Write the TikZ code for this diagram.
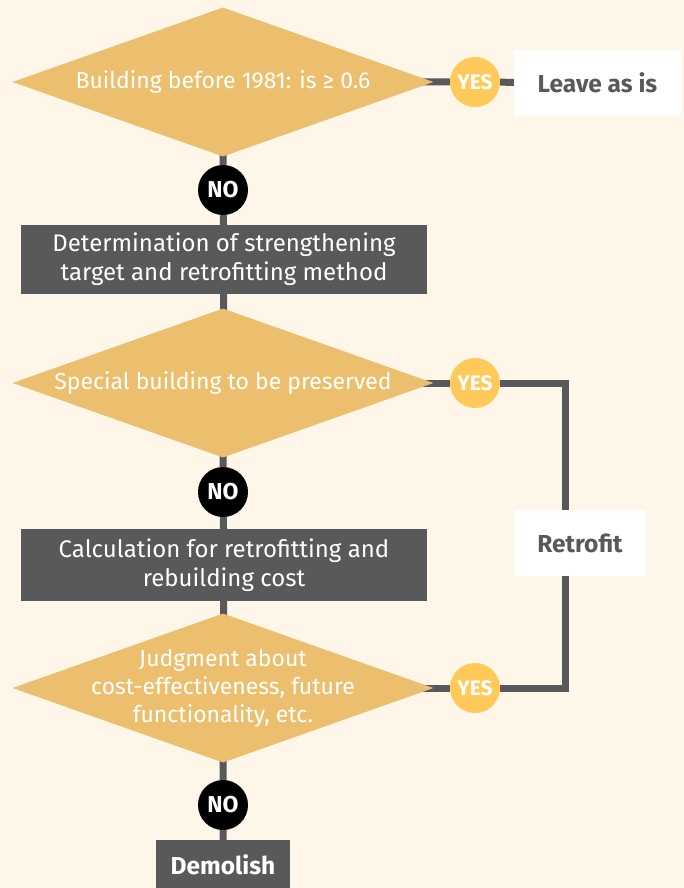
\documentclass[tikz,border=0pt]{standalone}
\usepackage{fontspec}
\setmainfont{Fira Sans}
\usetikzlibrary{shapes.geometric,backgrounds}
\pgfdeclarelayer{back}
\pgfsetlayers{back,background,main}
\definecolor{bg}{HTML}{FEF6E9}
\definecolor{dia}{HTML}{EBBF6D}
\definecolor{yesc}{HTML}{FFCA5A}
\definecolor{gry}{HTML}{58595B}
\begin{document}
\begin{tikzpicture}[x=1pt,y=-1pt,
  diam/.style={shape=diamond,fill=dia,draw=none,inner sep=0pt,minimum width=421pt,minimum height=149pt},
  dtext/.style={text=white,font=\fontsize{23}{28}\selectfont,align=center,inner sep=0pt},
  gbox/.style={fill=gry,text=white,font=\fontsize{24}{29}\selectfont,align=center,inner sep=0pt},
  wbox/.style={fill=white,text=gry,font=\fontsize{24.5}{26}\selectfont\bfseries,inner sep=0pt},
  yesn/.style={circle,fill=yesc,text=white,font=\fontsize{21}{22}\selectfont\bfseries,inner sep=0pt,minimum size=50pt},
  non/.style={circle,fill=black,text=white,font=\fontsize{23}{24}\selectfont\bfseries,inner sep=0pt,minimum size=50pt},
  conn/.style={draw=gry,line width=7pt}]
\begin{pgfonlayer}{back}
\fill[bg] (0,0) rectangle (684,888);
\end{pgfonlayer}
\useasboundingbox (0,0) rectangle (684,888);
% diamonds
\node[diam] (d1) at (223,82) {};
\node[dtext] (t1) at (d1) {Building before 1981: is ≥ 0.6};
\node[diam] (d2) at (223,383) {};
\node[dtext] (t2) at (d2) {Special building to be preserved};
\node[diam] (d3) at (223,688) {};
\node[dtext] (t3) at (d3) {Judgment about\\cost-effectiveness, future\\functionality, etc.};
% boxes
\node[gbox,minimum width=406pt,minimum height=69pt] (b1) at (224,259.5) {Determination of strengthening\\target and retrofitting method};
\node[gbox,minimum width=406pt,minimum height=72pt] (b2) at (224,565) {Calculation for retrofitting and\\rebuilding cost};
\node[gbox,font=\fontsize{24.5}{26}\selectfont\bfseries,minimum width=134pt,minimum height=50pt] (dem) at (223,865) {Demolish};
\node[wbox,minimum width=167pt,minimum height=66pt] (leave) at (597.5,83) {Leave as is};
\node[wbox,minimum width=132pt,minimum height=66pt] (retro) at (580,543) {Retrofit};
% yes / no
\node[yesn] (y1) at (475,82) {YES};
\node[yesn] (y2) at (475,383) {YES};
\node[yesn] (y3) at (475,688) {YES};
\node[non] (n1) at (223,190) {NO};
\node[non] (n2) at (223,492) {NO};
\node[non] (n3) at (223,805) {NO};
\coordinate (rx) at (565,0);
\begin{scope}[on background layer]
\draw[conn] (d1.center) -- (y1) -- (leave);
\draw[conn] (d1.center) -- (n1) -- (b1) -- (d2.center) -- (n2) -- (b2) -- (d3.center) -- (n3) -- (dem);
\draw[conn] (d2.center) -- (y2);
\draw[conn] (d3.center) -- (y3);
\draw[conn] (y2) -| (rx |- retro.north);
\draw[conn] (y3) -| (rx |- retro.south);
\end{scope}
\end{tikzpicture}
\end{document}
